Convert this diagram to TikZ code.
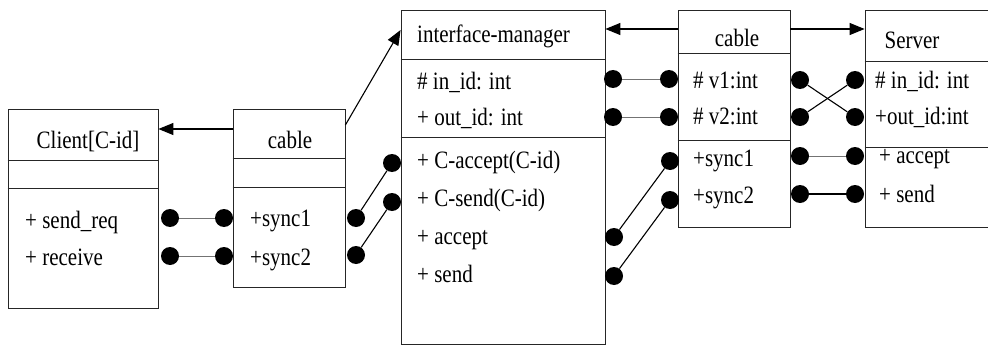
\documentclass[tikz,border=0pt]{standalone}
\usepackage{fontspec}
\setmainfont{Liberation Serif}[FakeStretch=0.84]
\usetikzlibrary{arrows.meta,calc}

\begin{document}
\begin{tikzpicture}[x=1pt,y=-1pt,
  box/.style={draw=black!85,line width=0.8pt,inner sep=0pt},
  sep/.style={draw=black!85,line width=0.8pt},
  dot/.style={circle,fill=black,inner sep=0pt,minimum size=18pt},
  wire/.style={draw=black!55,line width=0.8pt},
  bwire/.style={draw=black,line width=1.1pt},
  arr/.style={draw=black,line width=1.1pt,-{Triangle[length=15pt,width=12pt]}},
  txt/.style={inner sep=0pt,text height=0.75em,text depth=0.05em,yshift=-3pt,
    font=\fontsize{25}{29}\selectfont},
  lt/.style={txt,anchor=west},
]
\useasboundingbox (0,0) rectangle (988,345);

% class boxes
\node[box,minimum width=150pt,minimum height=199pt] (client) at (83,208.5) {};
\node[box,minimum width=112pt,minimum height=178pt] (lcab) at (289,198) {};
\node[box,minimum width=204pt,minimum height=334pt] (im) at (503,177) {};
\node[box,minimum width=112pt,minimum height=217pt] (rcab) at (734,118.5) {};
\node[box,minimum width=140pt,minimum height=217pt] (srv) at (935,118.5) {};

% compartment separators
\draw[sep] (client.west |- 0,160) -- (client.east |- 0,160);
\draw[sep] (client.west |- 0,188) -- (client.east |- 0,188);
\draw[sep] (lcab.west |- 0,158) -- (lcab.east |- 0,158);
\draw[sep] (lcab.west |- 0,187) -- (lcab.east |- 0,187);
\draw[sep] (im.west |- 0,59) -- (im.east |- 0,59);
\draw[sep] (im.west |- 0,137) -- (im.east |- 0,137);
\draw[sep] (rcab.west |- 0,53) -- (rcab.east |- 0,53);
\draw[sep] (rcab.west |- 0,140) -- (rcab.east |- 0,140);
\draw[sep] (srv.west |- 0,61) -- (srv.east |- 0,61);
\draw[sep] (srv.west |- 0,147) -- (srv.east |- 0,147);

% texts
\node[txt] (tclient) at (88,142) {Client[C-id]};
\node[lt] (csend) at (25,222) {+ send\_req};
\node[lt] (crecv) at (25,259) {+ receive};

\node[txt] (tlcab) at (290,142) {cable};
\node[lt] (ls1) at (250,220) {+sync1};
\node[lt] (ls2) at (250,259) {+sync2};

\node[lt] (tim) at (417,36) {interface-manager};
\node[lt] (ima1) at (417,83) {\# in\_id: int};
\node[lt] (ima2) at (417,119) {+ out\_id: int};
\node[lt] (imm1) at (417,162) {+ C-accept(C-id)};
\node[lt] (imm2) at (417,200) {+ C-send(C-id)};
\node[lt] (imm3) at (417,238) {+ accept};
\node[lt] (imm4) at (417,276) {+ send};

\node[txt] (trcab) at (737,40) {cable};
\node[lt] (rv1) at (693,82) {\# v1:int};
\node[lt] (rv2) at (693,118) {\# v2:int};
\node[lt] (rs1) at (693,160) {+sync1};
\node[lt] (rs2) at (693,197) {+sync2};

\node[txt] (tsrv) at (912,42) {Server};
\node[lt] (sa1) at (875,82) {\# in\_id: int};
\node[lt] (sa2) at (875,118) {+out\_id:int};
\node[lt] (sm1) at (879,157) {+ accept};
\node[lt] (sm2) at (879,196) {+ send};

% ports
\node[dot] (pc1) at (170,218) {};
\node[dot] (pc2) at (170,256) {};
\node[dot] (pl1) at (224,218) {};
\node[dot] (pl2) at (224,256) {};
\node[dot] (pl3) at (356,218) {};
\node[dot] (pl4) at (356,255) {};
\node[dot] (pi1) at (392,163) {};
\node[dot] (pi2) at (392,202) {};
\node[dot] (pi3) at (613,79) {};
\node[dot] (pi4) at (613,117) {};
\node[dot] (pi5) at (614,237) {};
\node[dot] (pi6) at (614,276) {};
\node[dot] (pr1) at (669,79) {};
\node[dot] (pr2) at (669,117) {};
\node[dot] (pr3) at (670,161) {};
\node[dot] (pr4) at (670,200) {};
\node[dot] (pr5) at (800,80) {};
\node[dot] (pr6) at (800,117) {};
\node[dot] (pr7) at (800,156) {};
\node[dot] (pr8) at (800,194) {};
\node[dot] (ps1) at (855,80) {};
\node[dot] (ps2) at (855,117) {};
\node[dot] (ps3) at (855,156) {};
\node[dot] (ps4) at (855,194) {};

% port wiring
\draw[wire] (pc1) -- (pl1);
\draw[wire] (pc2) -- (pl2);
\draw[bwire] (pl3) -- (pi1);
\draw[bwire] (pl4) -- (pi2);
\draw[wire] (pi3) -- (pr1);
\draw[wire] (pi4) -- (pr2);
\draw[bwire] (pi5) -- (pr3);
\draw[bwire] (pi6) -- (pr4);
\draw[bwire] (pr5) -- (ps2);
\draw[bwire] (pr6) -- (ps1);
\draw[wire] (pr7) -- (ps3);
\draw[bwire] (pr8) -- (ps4);

% associations
\coordinate (a1s) at (lcab.west |- 0,129);
\coordinate (a1e) at (client.east |- 0,129);
\draw[arr] (a1s) -- (a1e);
\coordinate (a2s) at (lcab.east |- 0,125);
\coordinate (a2e) at (im.west |- 0,30);
\draw[arr] (a2s) -- (a2e);
\coordinate (a3s) at (rcab.west |- 0,29);
\coordinate (a3e) at (im.east |- 0,29);
\draw[arr] (a3s) -- (a3e);
\coordinate (a4s) at (rcab.east |- 0,29);
\coordinate (a4e) at (srv.west |- 0,29);
\draw[arr] (a4s) -- (a4e);
\end{tikzpicture}
\end{document}
